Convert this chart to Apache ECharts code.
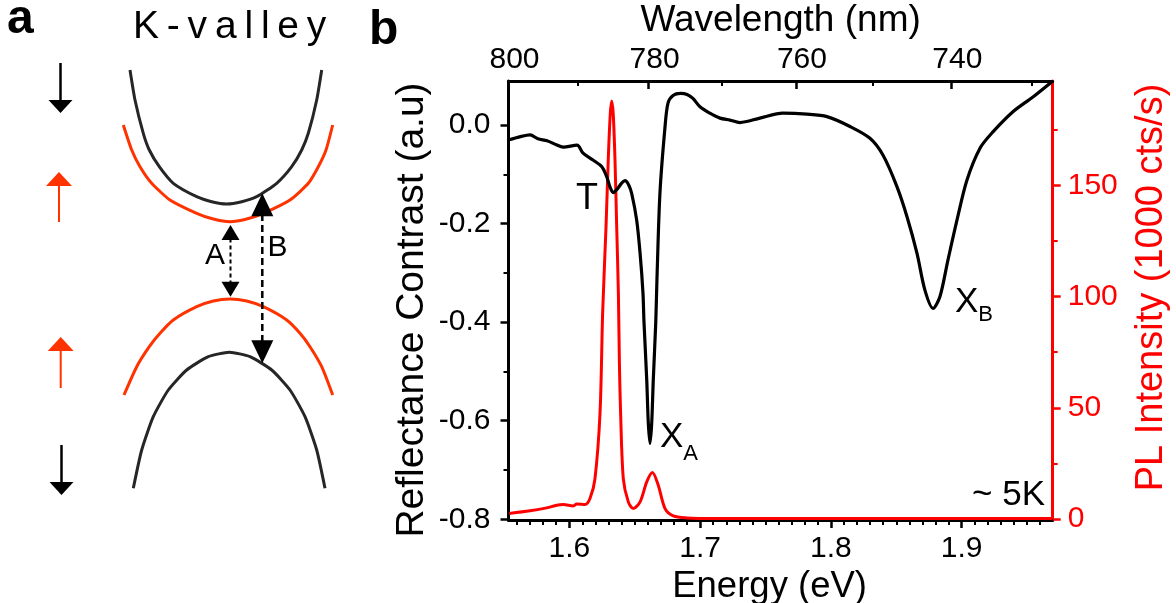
<!DOCTYPE html>
<html>
<head>
<meta charset="utf-8">
<script src="https://cdn.jsdelivr.net/npm/echarts@6/dist/echarts.min.js"></script>
<style>html,body{margin:0;padding:0;background:#fff}#chart{width:1176px;height:603px}</style>
</head>
<body>
<div id="chart"></div>
<script>
// ---------------- Panel b data ----------------
const HC = 1239.84; // eV*nm
const reflEnergy = [1.5539,1.5620,1.5700,1.5760,1.5830,1.5900,1.5952,1.6059,1.6105,1.6181,1.6250,1.6286,1.6310,1.6336,1.6372,1.6400,1.6426,1.6455,1.6477,1.6515,1.6541,1.6563,1.6571,1.6592,1.6604,1.6617,1.6630,1.6642,1.6661,1.6670,1.6693,1.6732,1.6755,1.6793,1.6850,1.6900,1.6945,1.6999,1.7075,1.7152,1.7228,1.7304,1.7457,1.7633,1.7817,1.7970,1.8146,1.8299,1.8398,1.8505,1.8582,1.8658,1.8719,1.8781,1.8834,1.8895,1.8964,1.9040,1.9140,1.9239,1.9392,1.9545,1.9690];
const reflValue  = [-0.030,-0.024,-0.020,-0.028,-0.032,-0.040,-0.045,-0.041,-0.057,-0.071,-0.085,-0.105,-0.125,-0.137,-0.128,-0.118,-0.113,-0.122,-0.139,-0.193,-0.260,-0.340,-0.400,-0.517,-0.605,-0.646,-0.605,-0.517,-0.400,-0.314,-0.138,-0.003,0.045,0.060,0.064,0.062,0.054,0.037,0.024,0.014,0.010,0.005,0.014,0.024,0.022,0.017,-0.003,-0.027,-0.061,-0.125,-0.186,-0.260,-0.335,-0.372,-0.348,-0.274,-0.193,-0.112,-0.047,-0.014,0.027,0.057,0.088];
const plEnergy = [1.5541,1.5700,1.5827,1.5904,1.5954,1.6031,1.6057,1.6120,1.6158,1.6196,1.6235,1.6255,1.6281,1.6298,1.6313,1.6324,1.6336,1.6349,1.6362,1.6375,1.6383,1.6392,1.6413,1.6451,1.6489,1.6541,1.6592,1.6635,1.6680,1.6732,1.6795,1.6898,1.7100,1.9690];
const plValue  = [2.5,3.7,5.0,6.2,6.5,5.9,6.8,6.5,9.2,18,48,93,132,162,182,188,182,162,132,102,70,48,18,7.7,4.7,7.7,16.7,20.9,15.2,4.7,1.4,0.5,0.2,0.2];

const energyTicks = [1.6, 1.7, 1.8, 1.9];
const energyMinorTicks = [];
for (let i = 156; i <= 196; i++) { if (i % 10 !== 0) energyMinorTicks.push(i / 100); }
const wavelengthTicks = [800, 780, 760, 740];
const wavelengthMinorTicks = [790, 770, 750, 730];
const reflTicks = [-0.8, -0.6, -0.4, -0.2, 0];
const reflMinorTicks = [-0.7, -0.5, -0.3, -0.1];
const plTicks = [0, 50, 100, 150];
const plMinorTicks = [25, 75, 125, 175];

// annotations [energy, reflectance]
const annoT = [1.6135, -0.151];
const annoXA = [1.6693, -0.598];
const annoXB = [1.8949, -0.3246];
const annoTemp = [1.9637, -0.7508];

// ---------------- Panel a (schematic, k vs E in arb. units) ----------------
const cbSpinDown = [[-0.98,2.30],[-0.93,2.00],[-0.847,1.667],[-0.787,1.50],[-0.687,1.333],[-0.547,1.167],[-0.313,1.033],[-0.163,0.983],[-0.013,0.96],[0.137,0.983],[0.287,1.033],[0.487,1.167],[0.637,1.333],[0.737,1.50],[0.803,1.667],[0.887,2.00],[0.937,2.30]];
const cbSpinUp = [[-1.047,1.75],[-0.963,1.50],[-0.88,1.333],[-0.763,1.167],[-0.58,1.00],[-0.313,0.867],[-0.147,0.81],[0.02,0.783],[0.187,0.81],[0.353,0.867],[0.62,1.00],[0.803,1.167],[0.903,1.333],[0.98,1.50],[1.047,1.75]];
const vbSpinUp = [[-1.04,-0.95],[-0.913,-0.667],[-0.787,-0.467],[-0.68,-0.333],[-0.547,-0.20],[-0.313,-0.067],[-0.147,-0.01],[0.02,0.01],[0.187,-0.01],[0.353,-0.067],[0.587,-0.20],[0.72,-0.333],[0.82,-0.467],[0.937,-0.667],[1.047,-0.95]];
const vbSpinDown = [[-0.947,-1.883],[-0.863,-1.50],[-0.747,-1.167],[-0.597,-0.90],[-0.413,-0.70],[-0.197,-0.567],[0.013,-0.523],[0.22,-0.567],[0.437,-0.70],[0.62,-0.90],[0.77,-1.167],[0.887,-1.50],[0.97,-1.883]];
// arrows: [k0, E0, k1(tip), E1(tip), styleIndex]
const spinArrows = [[-1.675,2.37,-1.675,1.87,0],[-1.69,0.78,-1.69,1.28,1],[-1.673,-0.88,-1.673,-0.37,1],[-1.665,-1.45,-1.665,-1.95,0]];
const transitionArrows = [[0.025,0.75,0.025,0.033,2],[0.343,1.067,0.343,-0.633,3]];
const transitionLabels = [[-0.13,0.445,'A'],[0.495,0.525,'B']];

// ---------------- styling ----------------
const FONT = '"Liberation Sans", Arial, Helvetica, sans-serif';
const BLACK = '#000000';
const RED = '#ff0000';
const ORANGE = '#ff3300';
const DARK = '#262626';
const ARROW_STYLES = [
  {color: BLACK, width: 2.5, headLen: 13, headW: 12, dash: null, both: false},
  {color: ORANGE, width: 2, headLen: 14, headW: 13, dash: null, both: false},
  {color: BLACK, width: 2, headLen: 15, headW: 9, dash: [4, 3], both: true},
  {color: BLACK, width: 2.5, headLen: 23, headW: 11, dash: [7, 4], both: true}
];

const zip = (a, b) => a.map((v, i) => [v, b[i]]);
const eOfNm = nm => HC / nm;
function tickAxis(base, extra) { return Object.assign({}, base, extra); }

const xBase = {type: 'value', gridIndex: 0, min: 1.5535, max: 1.9696, splitLine: {show: false}};
const topBase = {type: 'value', gridIndex: 0, min: eOfNm(800), max: 1.70423, position: 'top', splitLine: {show: false}};
const yLBase = {type: 'value', gridIndex: 0, min: -0.8014, max: 0.0893, position: 'left', splitLine: {show: false}};
const yRBase = {type: 'value', gridIndex: 0, min: -0.45, max: 197, position: 'right', splitLine: {show: false}};
const labelFont = {fontFamily: FONT, fontSize: 30};
const annoLabel = (extra) => Object.assign({show: true, position: [0, 0], color: BLACK, fontFamily: FONT, opacity: 1, textBorderWidth: 0}, extra);

const option = {
  animation: false,
  backgroundColor: '#ffffff',
  grid: [
    {left: 508.5, top: 81, width: 544.2, height: 439, outerBoundsMode: 'none', containLabel: false},
    {left: 8, top: 0, width: 440, height: 600, outerBoundsMode: 'none', containLabel: false}
  ],
  xAxis: [
    tickAxis(xBase, {
      position: 'bottom',
      axisLine: {onZero: false, lineStyle: {color: BLACK, width: 3}},
      axisTick: {customValues: energyTicks, length: 8, lineStyle: {color: BLACK, width: 2.5}},
      axisLabel: Object.assign({customValues: energyTicks, color: BLACK, margin: 14, formatter: v => v.toFixed(1)}, labelFont),
      name: 'Energy (eV)', nameLocation: 'middle', nameGap: 42,
      nameTextStyle: {color: BLACK, fontFamily: FONT, fontSize: 36.5, padding: [0, 22, 0, 0]}
    }),
    tickAxis(xBase, {
      position: 'bottom',
      axisLine: {show: false, onZero: false},
      axisTick: {customValues: energyMinorTicks, length: 5, lineStyle: {color: BLACK, width: 2}},
      axisLabel: {show: false}
    }),
    tickAxis(topBase, {
      axisLine: {onZero: false, lineStyle: {color: BLACK, width: 3}},
      axisTick: {customValues: wavelengthTicks.map(eOfNm), inside: true, length: 8, lineStyle: {color: BLACK, width: 2.5}},
      axisLabel: Object.assign({customValues: wavelengthTicks.map(eOfNm), color: BLACK, margin: 6, padding: [0, 0, 0, 12],
        formatter: v => String(Math.round(HC / v))}, labelFont),
      name: 'Wavelength (nm)', nameLocation: 'middle', nameGap: 42,
      nameTextStyle: {color: BLACK, fontFamily: FONT, fontSize: 37}
    }),
    tickAxis(topBase, {
      axisLine: {show: false, onZero: false},
      axisTick: {customValues: wavelengthMinorTicks.map(eOfNm), inside: true, length: 5, lineStyle: {color: BLACK, width: 2}},
      axisLabel: {show: false}
    }),
    {type: 'value', gridIndex: 1, min: -2.2, max: 2.2, show: false}
  ],
  yAxis: [
    tickAxis(yLBase, {
      axisLine: {onZero: false, lineStyle: {color: BLACK, width: 3}},
      axisTick: {customValues: reflTicks, length: 8, lineStyle: {color: BLACK, width: 2.5}},
      axisLabel: Object.assign({customValues: reflTicks, color: BLACK, margin: 18,
        formatter: v => (Math.abs(v) < 1e-9 ? '0.0' : v.toFixed(1))}, labelFont),
      name: 'Reflectance Contrast (a.u)', nameLocation: 'middle', nameGap: 77,
      nameTextStyle: {color: BLACK, fontFamily: FONT, fontSize: 39, padding: [0, 19, 0, 0]}
    }),
    tickAxis(yLBase, {
      axisLine: {show: false, onZero: false},
      axisTick: {customValues: reflMinorTicks, length: 5, lineStyle: {color: BLACK, width: 2}},
      axisLabel: {show: false}
    }),
    tickAxis(yRBase, {
      axisLine: {onZero: false, lineStyle: {color: RED, width: 3}},
      axisTick: {customValues: plTicks, length: 8, lineStyle: {color: RED, width: 2.5}},
      axisLabel: Object.assign({customValues: plTicks, color: RED, margin: 15, formatter: v => String(Math.round(v))}, labelFont),
      name: 'PL Intensity (1000 cts/s)', nameLocation: 'middle', nameGap: 80,
      nameTextStyle: {color: RED, fontFamily: FONT, fontSize: 38, padding: [0, 0, 0, 26]}
    }),
    tickAxis(yRBase, {
      axisLine: {show: false, onZero: false},
      axisTick: {customValues: plMinorTicks, length: 5, lineStyle: {color: RED, width: 2}},
      axisLabel: {show: false}
    }),
    {type: 'value', gridIndex: 1, min: -3, max: 3, show: false}
  ],
  series: [
    {
      type: 'line', name: 'PL', xAxisIndex: 0, yAxisIndex: 2, data: zip(plEnergy, plValue),
      showSymbol: false, smooth: 0.3, lineStyle: {color: RED, width: 3}, itemStyle: {color: RED}, z: 3
    },
    {
      type: 'line', name: 'Reflectance', xAxisIndex: 0, yAxisIndex: 0, data: zip(reflEnergy, reflValue),
      showSymbol: false, smooth: 0.3, lineStyle: {color: BLACK, width: 3.2}, itemStyle: {color: BLACK}, z: 4
    },
    {
      type: 'scatter', xAxisIndex: 0, yAxisIndex: 0, symbolSize: 0, silent: true, z: 6,
      itemStyle: {opacity: 1, color: BLACK},
      data: [
        {value: annoT, label: annoLabel({align: 'center', verticalAlign: 'middle', formatter: 'T', fontSize: 36})},
        {value: annoXA, label: annoLabel({align: 'left', verticalAlign: 'top', formatter: '{x|X}{s|A}',
          rich: {x: {fontFamily: FONT, fontSize: 35, lineHeight: 35, verticalAlign: 'top', color: BLACK}, s: {fontFamily: FONT, fontSize: 22, lineHeight: 45, verticalAlign: 'bottom', color: BLACK}}})},
        {value: annoXB, label: annoLabel({align: 'left', verticalAlign: 'top', formatter: '{x|X}{s|B}',
          rich: {x: {fontFamily: FONT, fontSize: 35, lineHeight: 35, verticalAlign: 'top', color: BLACK}, s: {fontFamily: FONT, fontSize: 22, lineHeight: 41, verticalAlign: 'bottom', color: BLACK}}})},
        {value: annoTemp, label: annoLabel({align: 'right', verticalAlign: 'middle', formatter: '~ 5K', fontSize: 35})}
      ]
    },
    {type: 'line', xAxisIndex: 4, yAxisIndex: 4, data: cbSpinDown, showSymbol: false, smooth: 0.2, lineStyle: {color: DARK, width: 3}, z: 2},
    {type: 'line', xAxisIndex: 4, yAxisIndex: 4, data: cbSpinUp, showSymbol: false, smooth: 0.2, lineStyle: {color: ORANGE, width: 3}, z: 2},
    {type: 'line', xAxisIndex: 4, yAxisIndex: 4, data: vbSpinUp, showSymbol: false, smooth: 0.2, lineStyle: {color: ORANGE, width: 3}, z: 2},
    {type: 'line', xAxisIndex: 4, yAxisIndex: 4, data: vbSpinDown, showSymbol: false, smooth: 0.2, lineStyle: {color: DARK, width: 3}, z: 2},
    {
      type: 'custom', xAxisIndex: 4, yAxisIndex: 4, clip: false, z: 5,
      data: spinArrows.concat(transitionArrows),
      renderItem: function (params, api) {
        const p0 = api.coord([api.value(0), api.value(1)]);
        const p1 = api.coord([api.value(2), api.value(3)]);
        const s = ARROW_STYLES[api.value(4)];
        const dx = p1[0] - p0[0], dy = p1[1] - p0[1];
        const len = Math.hypot(dx, dy) || 1;
        const ux = dx / len, uy = dy / len, nx = -uy, ny = ux;
        function head(tip, dir) {
          const bx = tip[0] - dir * ux * s.headLen, by = tip[1] - dir * uy * s.headLen;
          return {type: 'polygon', shape: {points: [tip, [bx + nx * s.headW, by + ny * s.headW], [bx - nx * s.headW, by - ny * s.headW]]}, style: {fill: s.color}};
        }
        const a = s.both ? [p0[0] + ux * s.headLen * 0.9, p0[1] + uy * s.headLen * 0.9] : p0;
        const b = [p1[0] - ux * s.headLen * 0.9, p1[1] - uy * s.headLen * 0.9];
        const children = [
          {type: 'line', shape: {x1: a[0], y1: a[1], x2: b[0], y2: b[1]}, style: {stroke: s.color, lineWidth: s.width, lineDash: s.dash}},
          head(p1, 1)
        ];
        if (s.both) children.push(head(p0, -1));
        return {type: 'group', children: children};
      }
    },
    {
      type: 'scatter', xAxisIndex: 4, yAxisIndex: 4, symbolSize: 0, silent: true, z: 6,
      itemStyle: {opacity: 1, color: BLACK},
      data: transitionLabels.map(d => ({value: [d[0], d[1]], label: annoLabel({align: 'center', verticalAlign: 'middle', formatter: d[2], fontSize: 30})}))
    }
  ],
  graphic: [
    {type: 'text', x: 7, y: 20, style: {text: 'a', fill: BLACK, font: 'bold 48px ' + FONT, verticalAlign: 'middle'}},
    {type: 'text', x: 369, y: 31, style: {text: 'b', fill: BLACK, font: 'bold 48px ' + FONT, verticalAlign: 'middle'}},
    {type: 'text', x: 133, y: 27.5, style: {text: 'K\u2009-\u2009v\u2009a\u2009l\u2009l\u2009e\u2009y', fill: BLACK, font: '39px ' + FONT, verticalAlign: 'middle'}}
  ]
};

const chart = echarts.init(document.getElementById('chart'), null, {renderer: 'canvas'});
chart.setOption(option);
</script>
</body>
</html>
